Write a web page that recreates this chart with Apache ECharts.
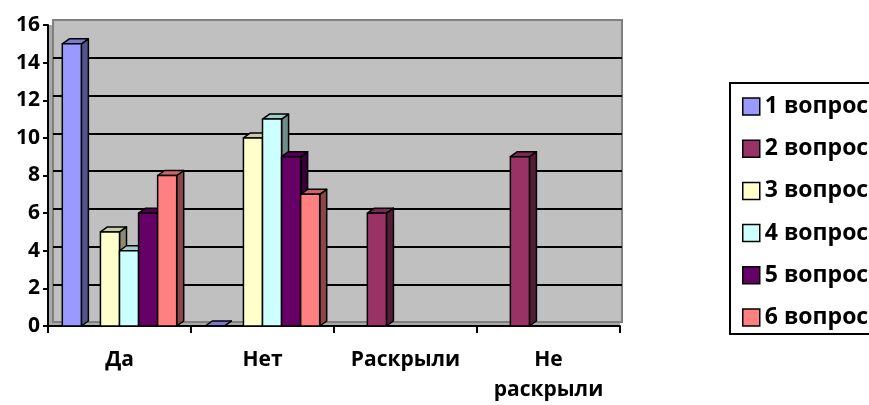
<!DOCTYPE html>
<html>
<head>
<meta charset="utf-8">
<script src="https://cdn.jsdelivr.net/npm/echarts@6/dist/echarts.min.js"></script>
<style>
  html, body { margin: 0; padding: 0; background: #fff; }
  #chart { width: 869px; height: 405px; }
</style>
</head>
<body>
<div id="chart"></div>
<script>
// Категории и ответы по вопросам
const categories = ['Да', 'Нет', 'Раскрыли', 'Не раскрыли'];
const seriesNames = ['1 вопрос', '2 вопрос', '3 вопрос', '4 вопрос', '5 вопрос', '6 вопрос'];
const q1 = [15, 0, null, null];
const q2 = [null, null, 6, 9];
const q3 = [5, 10, null, null];
const q4 = [4, 11, null, null];
const q5 = [6, 9, null, null];
const q6 = [8, 7, null, null];
const yMin = 0, yMax = 16, yStep = 2;

const values = [q1, q2, q3, q4, q5, q6];
const colors = ['#9999FF', '#993366', '#FFFFCC', '#CCFFFF', '#660066', '#FF8080'];
const FONT = '"Open Sans", "DejaVu Sans", sans-serif';

// затемнение цвета для граней
function shade(hex, f) {
    const n = parseInt(hex.slice(1), 16);
    const r = Math.round(((n >> 16) & 255) * f);
    const g = Math.round(((n >> 8) & 255) * f);
    const b = Math.round((n & 255) * f);
    return 'rgb(' + r + ',' + g + ',' + b + ')';
}

// "объёмный" столбик: передняя грань, верх и бок
function makeRender(k) {
    const dx = 7, dy = 5;
    return function (params, api) {
        const idx = api.value(0);
        const val = api.value(1);
        const base = api.coord([idx, 0]);
        const top = api.coord([idx, val]);
        const band = api.size([1, 0])[0];
        const slot = band * 0.8 / seriesNames.length;
        const x0 = base[0] - band * 0.4 + k * slot;
        const x1 = x0 + slot;
        const yb = base[1], yt = top[1];
        const stroke = { stroke: '#000', lineWidth: 1.5, lineJoin: 'round' };
        return {
            type: 'group',
            children: [
                {
                    type: 'polygon',
                    shape: { points: [[x1, yt], [x1 + dx, yt - dy], [x1 + dx, yb - dy], [x1, yb]] },
                    style: Object.assign({ fill: shade(colors[k], 0.55) }, stroke)
                },
                {
                    type: 'polygon',
                    shape: { points: [[x0, yt], [x1, yt], [x1 + dx, yt - dy], [x0 + dx, yt - dy]] },
                    style: Object.assign({ fill: shade(colors[k], 0.8) }, stroke)
                },
                {
                    type: 'rect',
                    shape: { x: x0, y: yt, width: slot, height: yb - yt },
                    style: Object.assign({ fill: colors[k] }, stroke)
                }
            ]
        };
    };
}

const chart = echarts.init(document.getElementById('chart'));

const series = seriesNames.map(function (name, k) {
    const data = [];
    values[k].forEach(function (v, i) {
        if (v !== null) data.push([i, v]);
    });
    return {
        name: name,
        type: 'custom',
        xAxisIndex: 1,
        yAxisIndex: 1,
        z: 3 + k,
        clip: false,
        itemStyle: { color: colors[k] },
        encode: { x: 0, y: 1 },
        renderItem: makeRender(k),
        data: data
    };
});

const option = {
    animation: false,
    backgroundColor: '#fff',
    legend: {
        orient: 'vertical',
        left: 730,
        top: 83,
        padding: [12, 8, 5, 12],
        itemGap: 19.2,
        itemWidth: 17,
        itemHeight: 17,
        icon: 'rect',
        backgroundColor: '#fff',
        borderColor: '#000',
        borderWidth: 2,
        borderRadius: 0,
        itemStyle: { borderColor: '#000', borderWidth: 1.5 },
        textStyle: {
            fontFamily: FONT,
            fontWeight: 'bold',
            fontSize: 23,
            lineHeight: 20,
            color: '#000'
        },
        data: seriesNames
    },
    grid: [
        // задняя стенка
        {
            left: 53, right: 247, top: 20, bottom: 83,
            show: true,
            z: 1,
            backgroundColor: '#C0C0C0',
            borderColor: '#808080',
            borderWidth: 2
        },
        // передняя плоскость (оси и столбики)
        {
            left: 48, right: 249, top: 25, bottom: 79,
            show: true,
            z: 0,
            backgroundColor: '#A8A8A8',
            borderWidth: 0
        }
    ],
    xAxis: [
        {
            gridIndex: 0,
            type: 'category',
            data: categories,
            show: false
        },
        {
            gridIndex: 1,
            type: 'category',
            data: categories,
            z: 2,
            axisLine: { show: true, lineStyle: { color: '#000', width: 2 } },
            axisTick: { show: true, length: 7, lineStyle: { color: '#000', width: 2 } },
            splitLine: { show: false },
            axisLabel: {
                margin: 19,
                interval: 0,
                fontFamily: FONT,
                fontWeight: 'bold',
                fontSize: 21,
                lineHeight: 30,
                color: '#000',
                formatter: function (v) { return v.replace(' ', '\n'); }
            }
        }
    ],
    yAxis: [
        {
            gridIndex: 0,
            type: 'value',
            min: yMin, max: yMax, interval: yStep,
            z: 2,
            axisLine: { show: false },
            axisTick: { show: false },
            axisLabel: { show: false },
            splitLine: {
                show: true,
                showMinLine: false,
                showMaxLine: false,
                lineStyle: { color: '#000', width: 2 }
            }
        },
        {
            gridIndex: 1,
            type: 'value',
            min: yMin, max: yMax, interval: yStep,
            z: 2,
            axisLine: { show: true, lineStyle: { color: '#000', width: 2 } },
            axisTick: { show: true, length: 5, lineStyle: { color: '#000', width: 2 } },
            splitLine: { show: false },
            axisLabel: {
                margin: 8,
                fontFamily: FONT,
                fontWeight: 'bold',
                fontSize: 21,
                color: '#000'
            }
        }
    ],
    series: series
};

chart.setOption(option);

window.addEventListener('resize', function () {
    chart.resize();
});
</script>
</body>
</html>
